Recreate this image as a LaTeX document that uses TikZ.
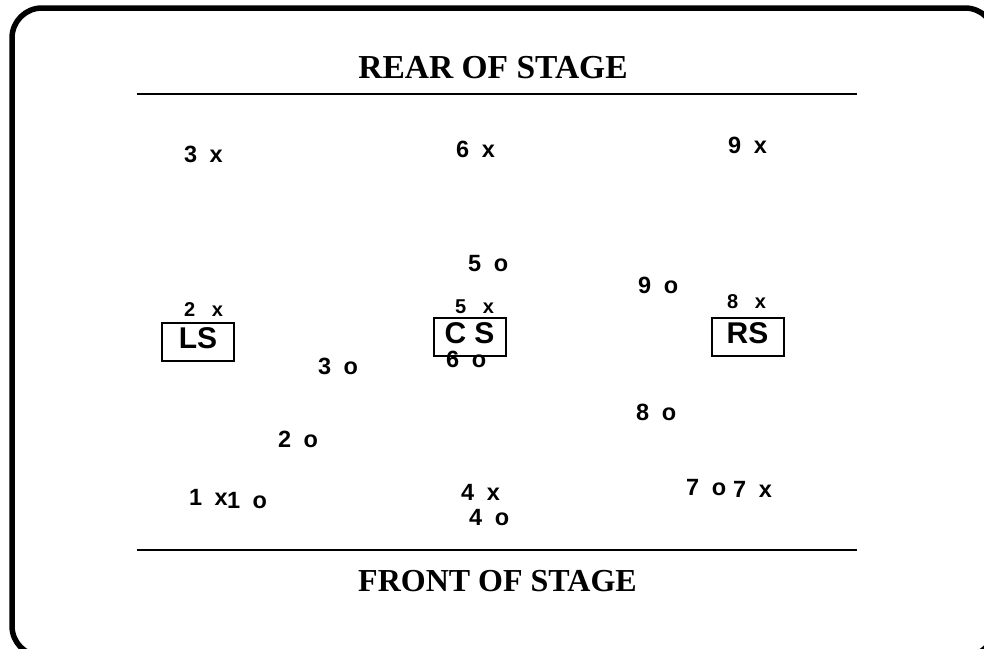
\documentclass[tikz,border=0pt]{standalone}
\usepackage{fontspec}
\setmainfont{Liberation Serif}
\newfontfamily\labfont{Liberation Sans}
\newcommand\labgapA{\hspace{12.5pt}}
\newcommand\labgapB{\hspace{16.5pt}}
\begin{document}
\begin{tikzpicture}[x=1pt,y=-1pt,
  big/.style={inner sep=0pt, anchor=base west, font=\labfont\bfseries\fontsize{23.5}{26}\selectfont},
  small/.style={big, font=\labfont\bfseries\fontsize{20}{22}\selectfont},
  stagebox/.style={draw, line width=2pt, inner sep=0pt, minimum width=72pt, minimum height=38pt, text height=21pt, text depth=8pt, font=\labfont\bfseries\fontsize{30}{32}\selectfont},
  title/.style={inner sep=0pt, anchor=base, font=\bfseries\fontsize{33.5}{36}\selectfont},
  titleb/.style={title, font=\bfseries\fontsize{32}{36}\selectfont},
  rule/.style={line width=2.5pt}]
\useasboundingbox (0,0) rectangle (984,648);
\clip (0,0) rectangle (984,648);
\draw[line width=5.5pt, rounded corners=30pt] (12,8) rectangle (995,656);

\coordinate (r1) at (137,94); \coordinate (r2) at (857,94);
\draw[rule] (r1) -- (r2);
\coordinate (f1) at (137,550); \coordinate (f2) at (857,550);
\draw[rule] (f1) -- (f2);
\node[title] (rear) at (493,78) {REAR OF STAGE};
\node[titleb] (front) at (497.5,591) {FRONT OF STAGE};

\node[stagebox] (ls) at (198,342) {LS};
\node[stagebox] (cs) at (469.5,336.5) {C S};
\node[stagebox] (rs) at (747.5,336.5) {RS};

\node[big] (x3) at (184,162) {3\labgapA x};
\node[big] (x6) at (456,157) {6\labgapA x};
\node[big] (x9) at (728,153) {9\labgapA x};
\node[big] (o5) at (468,271) {5\labgapA o};
\node[big] (o9) at (638,293) {9\labgapA o};
\node[small] (x2) at (184,316) {2\labgapB x};
\node[small] (x5) at (455,313) {5\labgapB x};
\node[small] (x8) at (727,308) {8\labgapB x};
\node[big] (o6) at (446,367) {6\labgapA o};
\node[big] (o3) at (318,374) {3\labgapA o};
\node[big] (o8) at (636,420) {8\labgapA o};
\node[big] (o2) at (278,447) {2\labgapA o};
\node[big] (x1) at (189,505) {1\labgapA x};
\node[big] (o1) at (227,508) {1\labgapA o};
\node[big] (x4) at (461,500) {4\labgapA x};
\node[big] (o4) at (469,525) {4\labgapA o};
\node[big] (o7) at (686,495) {7\labgapA o};
\node[big] (x7) at (733,497) {7\labgapA x};
\end{tikzpicture}
\end{document}
